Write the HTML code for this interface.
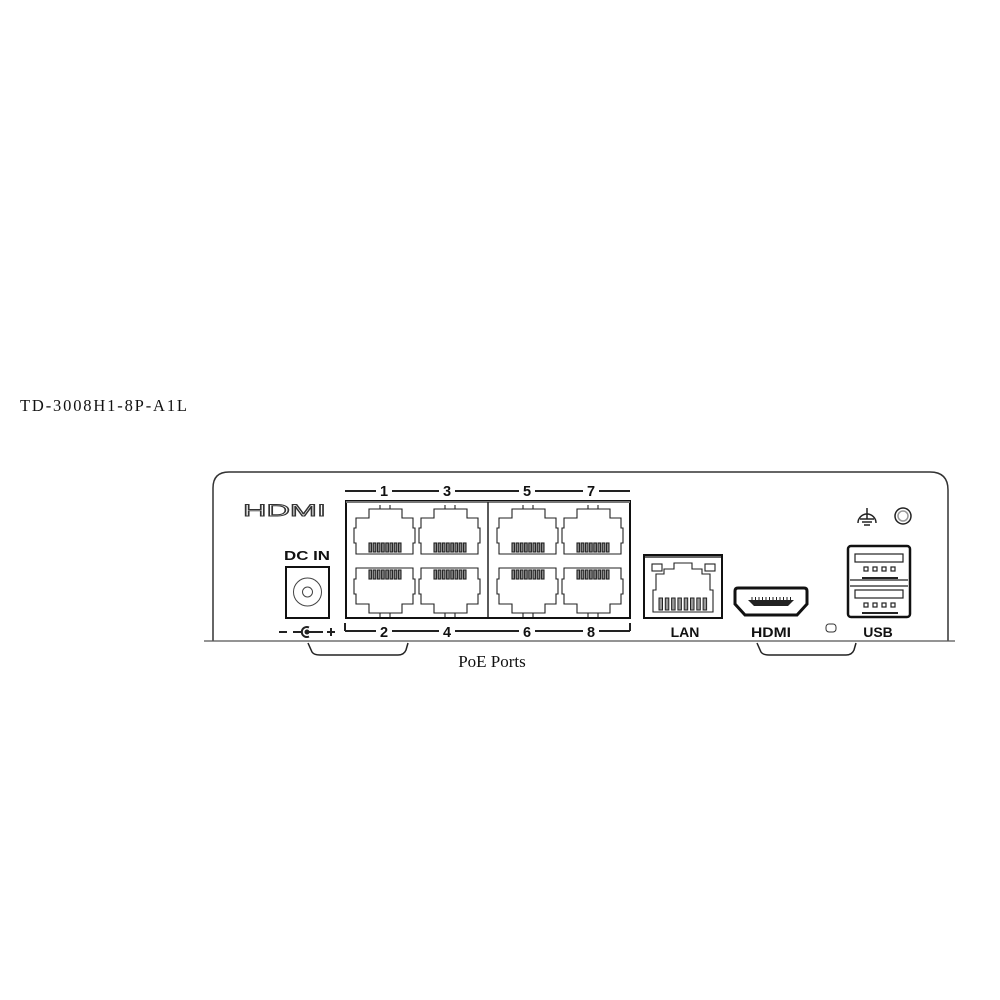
<!DOCTYPE html>
<html><head><meta charset="utf-8"><style>
html,body{margin:0;padding:0;background:#fff;width:1000px;height:1000px;overflow:hidden}
svg{display:block}
.s{font-family:"Liberation Serif",serif;fill:#111}
.b{font-family:"Liberation Sans",sans-serif;font-weight:bold;fill:#111}
</style></head><body>
<svg width="1000" height="1000" viewBox="0 0 1000 1000" xmlns="http://www.w3.org/2000/svg">
<text class="s" x="20" y="411" font-size="16.5" textLength="167" lengthAdjust="spacing">TD-3008H1-8P-A1L</text>
<path d="M213,641 L213,488 Q213,472 229,472 L930,472 Q948,472 948,490 L948,641" fill="none" stroke="#333" stroke-width="1.5"/>
<line x1="204" y1="641" x2="955" y2="641" stroke="#555" stroke-width="1.2"/>
<path d="M308,643 L312,652 Q314,655 320,655 L398,655 Q404,655 406,650 L408,643" fill="none" stroke="#222" stroke-width="1.5"/>
<path d="M757,643 L761,652 Q763,655 769,655 L846,655 Q852,655 854,650 L856,643" fill="none" stroke="#222" stroke-width="1.5"/>
<text class="s" x="492" y="667" font-size="17" text-anchor="middle">PoE Ports</text>
<text x="243" y="516" font-size="17" font-family="Liberation Sans, sans-serif" textLength="83" lengthAdjust="spacingAndGlyphs" fill="#fff" stroke="#333" stroke-width="0.9">HDMI</text>
<text class="b" x="307" y="560" font-size="13" text-anchor="middle" textLength="46" lengthAdjust="spacingAndGlyphs">DC IN</text>
<rect x="286" y="567" width="43" height="51" fill="none" stroke="#111" stroke-width="2"/>
<circle cx="307.5" cy="592" r="14" fill="none" stroke="#444" stroke-width="1"/>
<circle cx="307.5" cy="592" r="5" fill="none" stroke="#444" stroke-width="1"/>
<g stroke="#222" stroke-width="2" fill="none">
<line x1="279" y1="632" x2="287" y2="632"/>
<line x1="293" y1="632" x2="302" y2="632"/>
<line x1="307" y1="632" x2="323" y2="632"/>
<path d="M309,627.5 A5,5 0 1 0 309,636.5"/>
<line x1="327" y1="632" x2="335" y2="632"/><line x1="331" y1="628" x2="331" y2="636"/>
</g>
<circle cx="307" cy="632" r="2.5" fill="#222"/>
<g stroke="#222" stroke-width="2">
<line x1="345" y1="491" x2="630" y2="491"/>
<line x1="345" y1="631" x2="630" y2="631"/>
<line x1="345" y1="623" x2="345" y2="631"/><line x1="630" y1="623" x2="630" y2="631"/>
</g>
<g class="b" font-size="14.5" text-anchor="middle">
<rect x="376" y="483" width="16" height="14" fill="#fff"/><text x="384" y="496">1</text>
<rect x="439" y="483" width="16" height="14" fill="#fff"/><text x="447" y="496">3</text>
<rect x="519" y="483" width="16" height="14" fill="#fff"/><text x="527" y="496">5</text>
<rect x="583" y="483" width="16" height="14" fill="#fff"/><text x="591" y="496">7</text>
<rect x="376" y="624" width="16" height="14" fill="#fff"/><text x="384" y="637">2</text>
<rect x="439" y="624" width="16" height="14" fill="#fff"/><text x="447" y="637">4</text>
<rect x="519" y="624" width="16" height="14" fill="#fff"/><text x="527" y="637">6</text>
<rect x="583" y="624" width="16" height="14" fill="#fff"/><text x="591" y="637">8</text>
</g>
<rect x="346" y="501" width="284" height="117" fill="none" stroke="#111" stroke-width="2"/>
<line x1="346" y1="502" x2="630" y2="502" stroke="#777" stroke-width="2"/>
<line x1="488" y1="502" x2="488" y2="617" stroke="#222" stroke-width="1.5"/>
<g id="ports" fill="none" stroke="#222" stroke-width="1.1"></g>
<rect x="644" y="555" width="78" height="63" fill="none" stroke="#111" stroke-width="2"/>
<line x1="645" y1="557" x2="721" y2="557" stroke="#666" stroke-width="2"/>
<g fill="none" stroke="#222" stroke-width="1.1">
<rect x="652" y="564" width="10" height="7"/><rect x="705" y="564" width="10" height="7"/>
<path d="M656,574 L664,574 L664,569 L674,569 L674,563 L692,563 L692,569 L702,569 L702,574 L710,574 L710,590 L713,590 L713,612 L653,612 L653,590 L656,590 Z"/>
</g>
<g id="lanpins" fill="none" stroke="#222" stroke-width="1"></g>
<path d="M738,588 L804,588 Q807,588 807,591 L807,604 L797,615 L745,615 L735,604 L735,591 Q735,588 738,588 Z" fill="none" stroke="#111" stroke-width="3"/>
<path d="M748,600 L794,600 L788,606 L754,606 Z" fill="#222"/>
<g id="hdpins" stroke="#222" stroke-width="1"></g>
<text class="b" x="685" y="637" font-size="14" text-anchor="middle">LAN</text>
<text class="b" x="771" y="637" font-size="14" text-anchor="middle" textLength="40" lengthAdjust="spacingAndGlyphs">HDMI</text>
<rect x="826" y="624" width="10" height="8" rx="3" fill="none" stroke="#333" stroke-width="1"/>
<text class="b" x="878" y="637" font-size="14" text-anchor="middle">USB</text>
<rect x="848" y="546" width="62" height="71" rx="3" fill="none" stroke="#111" stroke-width="2.5"/>
<g fill="none" stroke="#222" stroke-width="1.2">
<rect x="855" y="554" width="48" height="8"/>
<rect x="855" y="590" width="48" height="8"/>
<line x1="850" y1="580" x2="908" y2="580"/><line x1="850" y1="586" x2="908" y2="586"/>
<line x1="862" y1="578" x2="898" y2="578" stroke-width="2"/>
<line x1="862" y1="613" x2="898" y2="613" stroke-width="2"/>
<rect x="864" y="567" width="4" height="4"/><rect x="873" y="567" width="4" height="4"/><rect x="882" y="567" width="4" height="4"/><rect x="891" y="567" width="4" height="4"/>
<rect x="864" y="603" width="4" height="4"/><rect x="873" y="603" width="4" height="4"/><rect x="882" y="603" width="4" height="4"/><rect x="891" y="603" width="4" height="4"/>
</g>
<g fill="none" stroke="#222" stroke-width="1.5">
<path d="M858,523 A9,9 0 0 1 876,523"/>
<line x1="867" y1="508" x2="867" y2="519"/>
<line x1="860" y1="519" x2="874" y2="519"/><line x1="862" y1="522" x2="872" y2="522"/><line x1="864" y1="525" x2="870" y2="525"/>
<circle cx="903" cy="516" r="8"/><circle cx="903" cy="516" r="5" stroke="#999"/>
</g>
</svg>
<script>
var ns="http://www.w3.org/2000/svg";
function el(p,t,a){var e=document.createElementNS(ns,t);for(var k in a)e.setAttribute(k,a[k]);p.appendChild(e);return e;}
var g=document.getElementById('ports');
var xs=[354,419,497,562];
function port(x,y,flip){
  var pts=[[15,0],[48,0],[48,9],[59,9],[59,19],[61,19],[61,34],[59,34],[59,45],[2,45],[2,34],[0,34],[0,19],[2,19],[2,9],[15,9]];
  var f=function(p){return (x+p[0])+','+(flip?y+45-p[1]:y+p[1]);};
  el(g,'polygon',{points:pts.map(f).join(' ')});
  var ty=flip?y+45:y;
  el(g,'line',{x1:x+26,y1:ty,x2:x+26,y2:flip?ty+4:ty-4});
  el(g,'line',{x1:x+36,y1:ty,x2:x+36,y2:flip?ty+4:ty-4});
  for(var i=0;i<8;i++){
    var px=x+15+i*4.2;
    el(g,'rect',{x:px,y:flip?y+2:y+34,width:2.6,height:9,fill:'#888'});
  }
}
xs.forEach(function(x){port(x,509,false);port(x,568,true);});
var lp=document.getElementById('lanpins');
for(var i=0;i<8;i++)el(lp,'rect',{x:659+i*6.3,y:598,width:3.5,height:12,fill:'#999'});
var hp=document.getElementById('hdpins');
for(var i=0;i<12;i++)el(hp,'line',{x1:752+i*3.5,y1:597,x2:752+i*3.5,y2:600});
</script>
</body></html>
